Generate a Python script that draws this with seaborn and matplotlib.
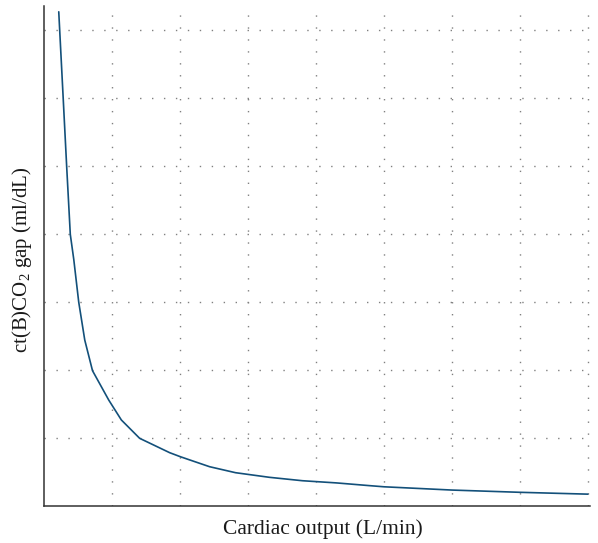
import matplotlib
matplotlib.use("Agg")
import matplotlib.pyplot as plt
import seaborn as sns
import pandas as pd

# values
cardiac_output = [0.21, 0.225, 0.276, 0.327, 0.353, 0.38, 0.431, 0.504, 0.593, 0.707,
                  0.946, 1.132, 1.401, 1.843, 2.0, 2.137, 2.431, 2.813, 3.313, 3.799,
                  4.299, 4.784, 5.0, 6.0, 7.0, 8.0]
co2_gap = [7.264, 6.971, 5.982, 4.984, 4.5, 3.995, 3.628, 3.001, 2.443, 1.993,
           1.562, 1.269, 1.0, 0.789, 0.73, 0.683, 0.583, 0.495, 0.427, 0.377,
           0.345, 0.305, 0.288, 0.24, 0.207, 0.18]
grid_ticks_x = [1, 2, 3, 4, 5, 6, 7, 8]
grid_ticks_y = [1, 2, 3, 4, 5, 6, 7]

df = pd.DataFrame({"co": cardiac_output, "gap": co2_gap})

sns.set_style("white")
plt.rcParams["font.family"] = ["Liberation Serif", "DejaVu Serif"]
plt.rcParams["mathtext.fontset"] = "custom"
plt.rcParams["mathtext.rm"] = "Liberation Serif"

fig = plt.figure(figsize=(5.98, 5.43), dpi=100)
ax = fig.add_axes([0.0744, 0.0674, 0.912, 0.9216])

sns.lineplot(data=df, x="co", y="gap", ax=ax, color="#13507a", linewidth=1.2)

ax.set_xlim(0, 8.03)
ax.set_ylim(0, 7.35)
ax.set_xticks(grid_ticks_x)
ax.set_yticks(grid_ticks_y)
ax.tick_params(length=0, labelbottom=False, labelleft=False)
ax.grid(True, color="#808080", linestyle=(0, (1, 7.6)), linewidth=1.0)

for s in ["top", "right"]:
    ax.spines[s].set_visible(False)
for s in ["left", "bottom"]:
    ax.spines[s].set_color("#333333")
    ax.spines[s].set_linewidth(1.1)

ax.set_xlabel("Cardiac output (L/min)", fontsize=15.5, color="#1a1a1a")
ax.set_ylabel(r"ct(B)CO$_{\mathrm{2}}$ gap (ml/dL)", fontsize=15, color="#1a1a1a")
ax.xaxis.set_label_coords(0.51, -0.026)
ax.yaxis.set_label_coords(-0.02, 0.492)

fig.savefig("out.png", dpi=100)
